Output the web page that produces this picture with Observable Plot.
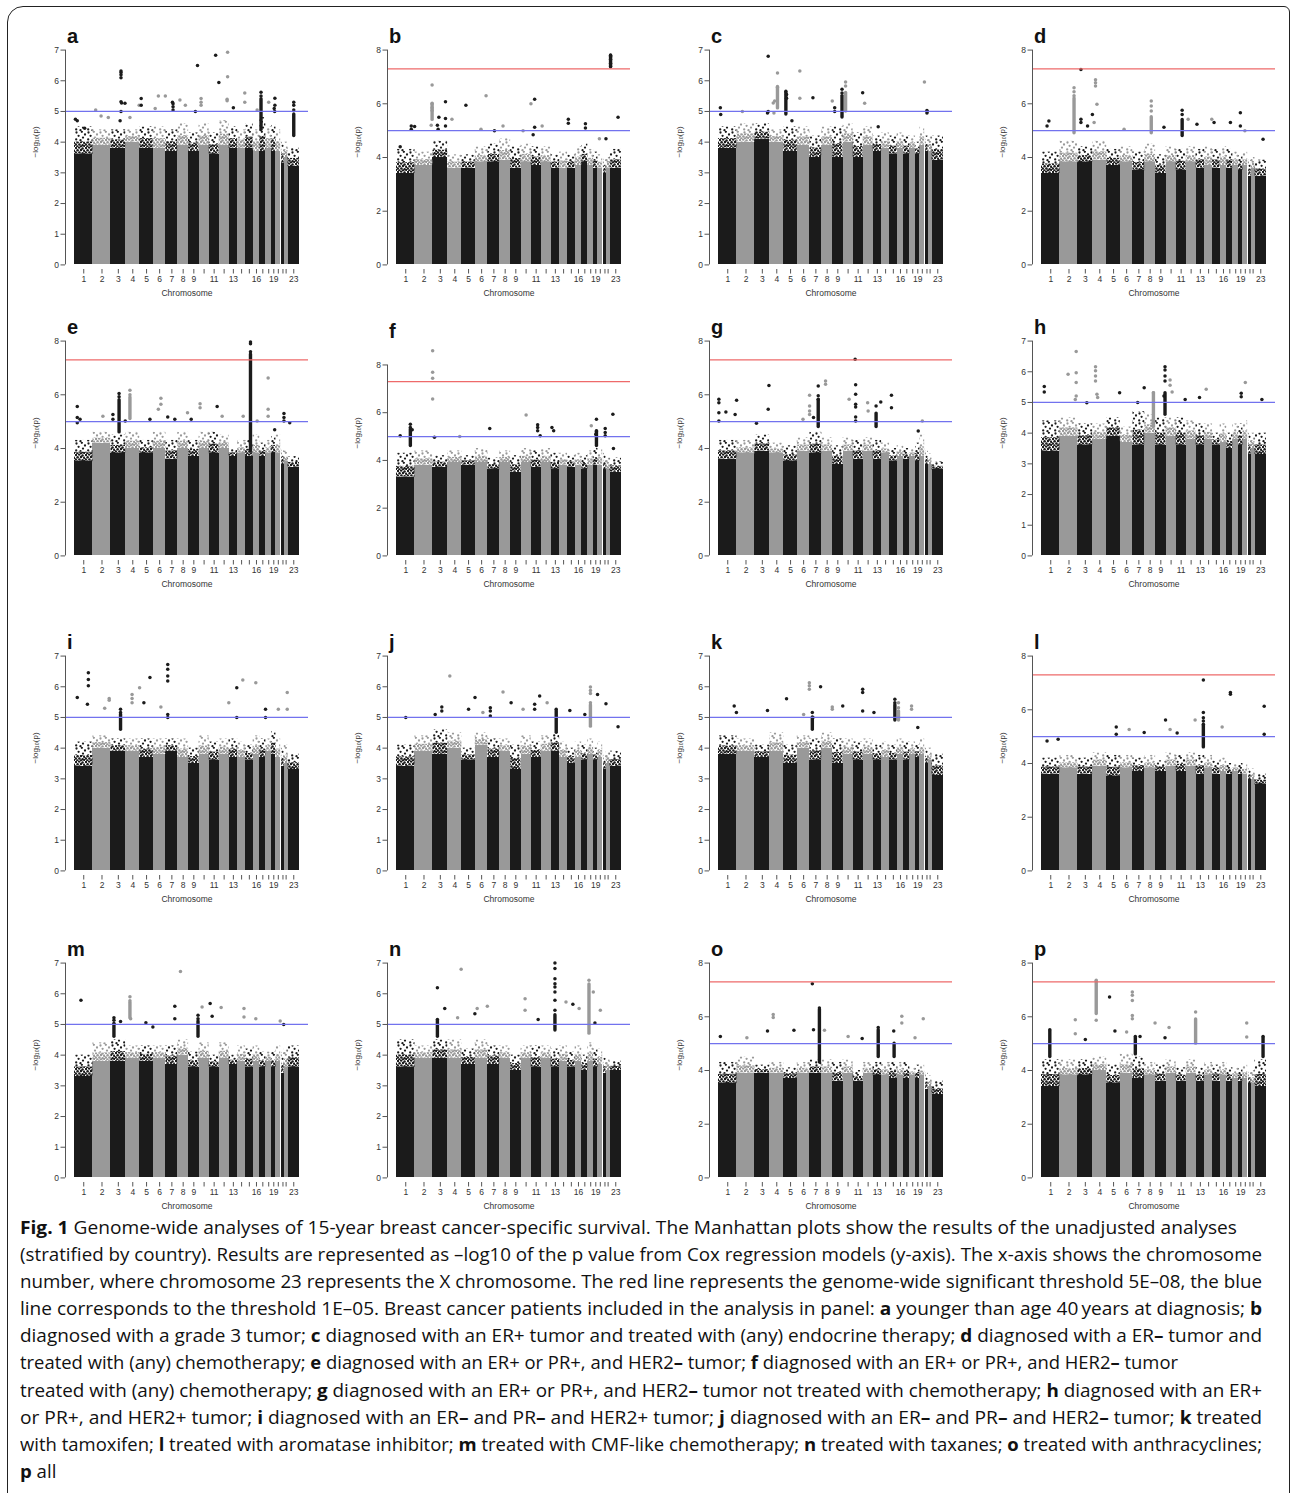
<!DOCTYPE html>
<html><head><meta charset="utf-8">
<script src="https://cdn.jsdelivr.net/npm/d3@7"></script>
<script src="https://cdn.jsdelivr.net/npm/@observablehq/plot@0.6"></script>
<style>
html,body{margin:0;padding:0;background:#fff;}
body{width:1290px;height:1493px;position:relative;overflow:hidden;font-family:"Liberation Sans",Arial,sans-serif;}
#frame{position:absolute;left:7px;top:6px;width:1283px;height:1530px;border:1.6px solid #222;border-radius:16px 6px 0 0;box-sizing:border-box;}
.panel{position:absolute;}
#caption{position:absolute;left:20px;top:1213px;font-family:"Open Sans",sans-serif;font-size:18.6px;line-height:27.1px;color:#111;}
#caption .ln{display:block;width:max-content;white-space:nowrap;transform-origin:0 50%;}
#caption b{font-weight:700;}
</style></head><body>
<svg width="0" height="0" style="position:absolute">
  <defs>
    <pattern id="dense-b" patternUnits="userSpaceOnUse" width="10" height="8"><g fill="#1b1b1b"><circle cx="1" cy="1" r="1.25"/><circle cx="4.2" cy="0.6" r="1.25"/><circle cx="7.5" cy="1.4" r="1.25"/><circle cx="2.6" cy="3.2" r="1.25"/><circle cx="6" cy="3" r="1.25"/><circle cx="9.2" cy="3.8" r="1.25"/><circle cx="0.8" cy="5.4" r="1.25"/><circle cx="4.4" cy="5.6" r="1.25"/><circle cx="7.6" cy="6.2" r="1.25"/><circle cx="2.4" cy="7.4" r="1.25"/><circle cx="5.8" cy="7.6" r="1.25"/><circle cx="9.4" cy="6.9" r="1.25"/></g></pattern>
    <pattern id="dense-g" patternUnits="userSpaceOnUse" width="10" height="8"><g fill="#999999"><circle cx="1" cy="1" r="1.25"/><circle cx="4.2" cy="0.6" r="1.25"/><circle cx="7.5" cy="1.4" r="1.25"/><circle cx="2.6" cy="3.2" r="1.25"/><circle cx="6" cy="3" r="1.25"/><circle cx="9.2" cy="3.8" r="1.25"/><circle cx="0.8" cy="5.4" r="1.25"/><circle cx="4.4" cy="5.6" r="1.25"/><circle cx="7.6" cy="6.2" r="1.25"/><circle cx="2.4" cy="7.4" r="1.25"/><circle cx="5.8" cy="7.6" r="1.25"/><circle cx="9.4" cy="6.9" r="1.25"/></g></pattern>
    <pattern id="sparse-b" patternUnits="userSpaceOnUse" width="12" height="10"><g fill="#1b1b1b"><circle cx="1.5" cy="1.5" r="1.15"/><circle cx="6.8" cy="0.8" r="1.15"/><circle cx="10" cy="3.5" r="1.15"/><circle cx="3.6" cy="4.8" r="1.15"/><circle cx="8" cy="6.6" r="1.15"/><circle cx="1.2" cy="8.4" r="1.15"/><circle cx="5.5" cy="9.2" r="1.15"/></g></pattern>
    <pattern id="sparse-g" patternUnits="userSpaceOnUse" width="12" height="10"><g fill="#999999"><circle cx="1.5" cy="1.5" r="1.15"/><circle cx="6.8" cy="0.8" r="1.15"/><circle cx="10" cy="3.5" r="1.15"/><circle cx="3.6" cy="4.8" r="1.15"/><circle cx="8" cy="6.6" r="1.15"/><circle cx="1.2" cy="8.4" r="1.15"/><circle cx="5.5" cy="9.2" r="1.15"/></g></pattern>
  </defs>
</svg>
<div id="frame"></div>
<div id="panels"></div>
<div id="caption">
<span class="ln" data-w="1217"><b>Fig. 1</b> Genome-wide analyses of 15-year breast cancer-specific survival. The Manhattan plots show the results of the unadjusted analyses</span>
<span class="ln" data-w="1242">(stratified by country). Results are represented as –log10 of the p value from Cox regression models (y-axis). The x-axis shows the chromosome</span>
<span class="ln" data-w="1242">number, where chromosome 23 represents the X chromosome. The red line represents the genome-wide significant threshold 5E–08, the blue</span>
<span class="ln" data-w="1242">line corresponds to the threshold 1E–05. Breast cancer patients included in the analysis in panel: <b>a</b> younger than age 40&#8201;years at diagnosis; <b>b</b></span>
<span class="ln" data-w="1242">diagnosed with a grade 3 tumor; <b>c</b> diagnosed with an ER+ tumor and treated with (any) endocrine therapy; <b>d</b> diagnosed with a ER<b>–</b> tumor and</span>
<span class="ln" data-w="1158">treated with (any) chemotherapy; <b>e</b> diagnosed with an ER+ or PR+, and HER2<b>–</b> tumor; <b>f</b> diagnosed with an ER+ or PR+, and HER2<b>–</b> tumor</span>
<span class="ln" data-w="1242">treated with (any) chemotherapy; <b>g</b> diagnosed with an ER+ or PR+, and HER2<b>–</b> tumor not treated with chemotherapy; <b>h</b> diagnosed with an ER+</span>
<span class="ln" data-w="1242">or PR+, and HER2+ tumor; <b>i</b> diagnosed with an ER<b>–</b> and PR<b>–</b> and HER2+ tumor; <b>j</b> diagnosed with an ER<b>–</b> and PR<b>–</b> and HER2<b>–</b> tumor; <b>k</b> treated</span>
<span class="ln" data-w="1242">with tamoxifen; <b>l</b> treated with aromatase inhibitor; <b>m</b> treated with CMF-like chemotherapy; <b>n</b> treated with taxanes; <b>o</b> treated with anthracyclines;</span>
<span class="ln"><b>p</b> all</span>
</div>
<script>
// ---------- genome (chromosome sizes in Mb, first position with data) ----------
const chromosomes = d3.range(1, 24);
const chrLength = [249,243,198,191,181,171,159,146,141,136,135,134,115,107,102,90,81,78,59,63,48,51,155];
const chrFirst  = [0,0,0,0,0,0,0,0,0,0,0,0,0,0,0,0,0,0,0,0,14,0,0];
const chrTickLabels = ["1","2","3","4","5","6","7","8","9","","11","","13","","","16","","","19","","","","23"];
const thresholdSuggestive = 5;     // 1E-05
const thresholdGenomeWide = 7.3;   // 5E-08

// ---------- per panel: top of the solid band, top of the dense fringe (per chromosome) ----------
const solid_a  = [3.6,3.9,3.8,4.0,3.8,3.8,3.7,3.9,3.7,3.9,3.6,3.9,3.8,3.8,3.8,3.7,3.7,3.8,3.7,3.7,3.3,3.5,3.2];
const fringe_a = [4.5,4.4,4.4,4.4,4.5,4.5,4.4,4.6,4.3,4.6,4.3,4.7,4.5,4.4,4.6,4.4,4.8,4.5,4.6,4.4,4.0,4.0,3.8];
const solid_b  = [3.4,3.7,4.0,3.6,3.6,3.8,3.8,3.9,3.6,3.8,3.7,3.8,3.6,3.6,3.6,3.7,3.8,3.7,3.6,3.6,3.4,3.6,3.6];
const fringe_b = [4.3,4.2,4.6,4.1,4.1,4.4,4.5,4.7,4.4,4.5,4.4,4.4,4.1,4.2,4.1,4.4,4.5,4.3,4.2,4.1,4.0,4.0,4.3];
const solid_c  = [3.8,4.0,4.1,4.0,3.7,3.9,3.5,3.9,3.5,4.0,3.5,3.9,3.7,3.8,3.6,3.8,3.6,3.8,3.6,3.9,3.7,3.7,3.4];
const fringe_c = [4.5,4.6,4.6,4.4,4.5,4.5,4.2,4.5,4.5,4.6,4.3,4.5,4.2,4.3,4.2,4.3,4.2,4.2,4.0,4.5,4.2,4.2,4.2];
const solid_d  = [3.4,3.8,3.8,3.9,3.7,3.8,3.5,3.8,3.4,3.8,3.5,3.8,3.6,3.7,3.6,3.7,3.6,3.7,3.5,3.7,3.3,3.6,3.3];
const fringe_d = [4.2,4.6,4.4,4.6,4.3,4.4,4.2,4.5,4.1,4.4,4.3,4.4,4.3,4.4,4.3,4.4,4.3,4.2,4.1,4.2,3.9,4.0,3.9];
const solid_e  = [3.5,4.2,3.8,4.0,3.8,4.0,3.6,4.0,3.7,4.0,3.8,4.0,3.7,3.8,3.7,3.8,3.7,3.8,3.8,3.8,3.4,3.5,3.3];
const fringe_e = [4.3,4.6,4.5,4.6,4.3,4.6,4.3,4.6,4.3,4.6,4.6,4.5,4.0,4.3,4.3,4.5,4.2,4.3,4.5,4.5,4.0,3.9,3.7];
const solid_f  = [3.3,3.8,3.7,3.9,3.8,3.9,3.6,3.9,3.5,3.9,3.7,3.9,3.6,3.8,3.7,3.8,3.6,3.8,3.8,3.8,3.6,3.6,3.5];
const fringe_f = [4.3,4.4,4.2,4.4,4.2,4.5,4.1,4.4,4.2,4.5,4.4,4.5,4.3,4.3,4.2,4.3,4.2,4.4,4.5,4.5,4.3,4.1,4.1];
const solid_g  = [3.6,3.8,3.9,3.8,3.5,3.9,3.8,3.9,3.4,3.9,3.6,3.9,3.6,3.8,3.5,3.7,3.6,3.7,3.5,3.7,3.4,3.4,3.2];
const fringe_g = [4.3,4.3,4.5,4.2,4.1,4.4,4.6,4.4,4.1,4.4,4.3,4.4,4.3,4.2,4.0,4.1,4.0,4.0,4.2,4.5,3.9,3.8,3.5];
const solid_h  = [3.4,3.9,3.6,3.8,3.9,3.7,3.6,4.0,3.6,3.9,3.6,3.8,3.6,3.8,3.6,3.7,3.5,3.8,3.6,3.8,3.3,3.5,3.3];
const fringe_h = [4.4,4.5,4.3,4.3,4.5,4.2,4.7,4.6,4.5,4.5,4.5,4.4,4.3,4.3,4.0,4.3,4.0,4.3,4.3,4.4,4.0,4.0,4.0];
const solid_i  = [3.4,4.0,3.9,3.9,3.7,3.8,3.9,3.7,3.5,3.8,3.6,3.8,3.7,3.7,3.6,3.8,3.7,3.9,3.8,3.7,3.4,3.5,3.3];
const fringe_i = [4.2,4.4,4.3,4.3,4.3,4.3,4.3,4.3,4.0,4.4,4.2,4.3,4.3,4.2,4.1,4.4,4.3,4.3,4.6,4.3,4.0,4.1,3.8];
const solid_j  = [3.4,3.9,3.8,4.0,3.6,4.1,3.7,3.9,3.3,3.8,3.7,3.9,3.9,3.7,3.5,3.7,3.6,3.8,3.6,3.7,3.3,3.5,3.4];
const fringe_j = [4.1,4.4,4.6,4.5,4.0,4.5,4.3,4.3,4.1,4.4,4.2,4.4,4.5,4.2,4.0,4.2,4.1,4.3,4.0,4.2,3.8,3.9,3.9];
const solid_k  = [3.8,3.9,3.7,3.9,3.5,4.0,3.6,4.0,3.5,3.8,3.6,3.8,3.6,3.7,3.6,3.8,3.6,3.8,3.7,3.8,3.5,3.6,3.1];
const fringe_k = [4.4,4.3,4.1,4.5,4.1,4.4,4.3,4.5,4.3,4.3,4.2,4.3,4.1,4.2,4.1,4.3,4.2,4.2,4.1,4.3,4.0,4.0,3.8];
const solid_l  = [3.6,3.8,3.6,3.9,3.5,3.8,3.7,3.8,3.7,3.9,3.7,3.9,3.6,3.8,3.6,3.7,3.6,3.7,3.6,3.6,3.4,3.4,3.2];
const fringe_l = [4.2,4.3,4.2,4.4,4.3,4.3,4.2,4.3,4.1,4.4,4.3,4.4,4.3,4.3,4.1,4.2,4.0,4.0,4.0,4.0,3.8,3.8,3.6];
const solid_m  = [3.3,3.8,3.8,3.9,3.8,3.9,3.7,4.0,3.6,3.9,3.6,3.9,3.7,3.8,3.6,3.8,3.6,3.8,3.6,3.8,3.4,3.6,3.6];
const fringe_m = [4.0,4.4,4.5,4.3,4.3,4.3,4.3,4.5,4.1,4.4,4.0,4.4,4.0,4.3,4.2,4.3,4.1,4.1,4.1,4.3,4.1,4.2,4.3];
const solid_n  = [3.6,3.9,3.9,3.9,3.7,3.9,3.7,3.9,3.5,3.9,3.6,3.9,3.6,3.8,3.6,3.8,3.5,3.8,3.6,3.7,3.4,3.5,3.5];
const fringe_n = [4.5,4.3,4.5,4.5,4.2,4.5,4.3,4.3,4.0,4.3,4.3,4.3,4.2,4.3,4.1,4.3,4.0,4.4,4.2,4.2,3.9,3.9,3.8];
const solid_o  = [3.5,3.9,3.9,3.9,3.7,3.9,3.9,3.9,3.6,3.9,3.6,3.9,3.8,3.8,3.7,3.8,3.7,3.8,3.7,3.8,3.3,3.4,3.1];
const fringe_o = [4.3,4.5,4.2,4.3,4.1,4.3,4.4,4.4,4.3,4.4,4.0,4.3,4.3,4.3,4.3,4.3,4.3,4.1,4.2,4.2,3.9,3.8,3.6];
const solid_p  = [3.4,3.8,3.8,4.0,3.5,3.9,3.7,3.8,3.6,3.9,3.6,3.9,3.6,3.8,3.6,3.8,3.6,3.7,3.6,3.7,3.5,3.5,3.4];
const fringe_p = [4.4,4.4,4.4,4.5,4.2,4.6,4.5,4.3,4.2,4.4,4.1,4.4,4.1,4.3,4.2,4.3,4.1,4.1,4.1,4.2,4.0,4.0,4.4];

// ---------- per panel: individual top hits [chromosome, position within chromosome 0..1, -log10 p] ----------
const hits_a = [[1,.05,4.75],[1,.15,4.7],[1,.55,4.45],[2,.15,5.05],[2,.45,4.85],[2,.85,4.8],[3,.68,6.32],[3,.68,6.27],[3,.68,6.2],[3,.68,6.1],[3,.68,5.32],[3,.72,5.28],[3,.68,5.0],[3,.62,4.7],[3,.95,5.27],[4,.3,4.8],[4,.95,5.2],[5,.1,5.42],[5,.1,5.2],[6,.15,5.1],[6,.4,5.5],[6,.95,5.5],[7,.55,5.3],[7,.6,5.25],[7,.6,5.15],[7,.6,5.05],[8,.2,5.37],[8,.7,5.2],[9,.85,6.5],[9,.65,5.0],[10,.2,5.42],[10,.2,5.3],[10,.2,5.2],[11,.65,6.83],[11,.97,5.94],[12,.85,6.93],[12,.85,6.13],[12,.8,5.4],[12,.8,5.35],[13,.5,5.12],[14,.9,5.6],[14,.9,5.3],[16,.6,5.05],[17,.2,5.63],[17,.2,5.5],[18,.5,5.3],[19,.75,5.43],[19,.75,5.2],[19,.6,5.1],[19,.7,5.0],[23,.5,5.3],[23,.5,5.2],[23,.5,5.05]];
const hits_b = [[1,.8,5.17],[1,.8,5.05],[1,.98,5.15],[1,.2,4.4],[2,.95,6.7],[2,.95,6.0],[2,.95,5.85],[2,.95,5.75],[2,.9,5.2],[3,.85,6.08],[3,.4,5.5],[3,.85,5.45],[3,.85,5.17],[3,.35,5.05],[3,.3,5.2],[4,.3,5.42],[5,.3,5.95],[6,.85,6.3],[6,.45,5.05],[7,.55,5.0],[8,.3,5.17],[10,.2,5.0],[10,.98,6.0],[11,.35,6.17],[11,.35,5.13],[11,.2,4.85],[12,.1,5.17],[15,.1,5.42],[15,.1,5.28],[17,.6,5.26],[17,.6,5.1],[20,.3,4.7],[21,.9,4.7],[23,.05,7.8],[23,.05,7.75],[23,.05,7.65],[23,.05,7.5],[23,.05,7.38],[23,.7,5.5]];
const hits_c = [[1,.1,5.12],[1,.12,4.9],[2,.3,5.0],[3,.9,6.8],[3,.9,5.0],[3,.85,4.95],[4,.55,6.25],[4,.55,5.78],[4,.35,5.34],[4,.25,5.28],[4,.3,4.95],[5,.15,5.66],[5,.2,5.55],[5,.2,5.43],[5,.6,4.7],[6,.2,6.32],[6,.2,5.43],[7,.25,5.45],[8,.97,5.34],[9,.2,5.12],[9,.2,5.0],[9,.9,5.72],[9,.9,5.6],[10,.25,5.96],[10,.25,5.83],[11,.95,5.61],[12,.15,5.27],[13,.6,4.5],[20,.95,5.96],[21,.5,5.03],[21,.6,5.0],[21,.5,4.95]];
const hits_d = [[1,.4,5.36],[1,.3,5.17],[2,.78,6.6],[2,.78,6.45],[2,.78,6.3],[3,.2,7.28],[3,.2,5.42],[3,.2,5.3],[3,.65,5.17],[3,.98,5.6],[4,.2,6.9],[4,.2,6.78],[4,.2,6.66],[4,.3,5.98],[4,.1,5.3],[6,.3,5.05],[8,.6,6.1],[8,.6,5.92],[8,.6,5.73],[9,.8,5.13],[11,.6,5.76],[11,.6,5.6],[12,.2,5.42],[13,.1,5.24],[14,.9,5.42],[15,.2,5.3],[17,.6,5.3],[19,.4,5.67],[19,.4,5.17],[20,.4,5.0],[23,.7,4.68]];
const hits_e = [[1,.15,5.56],[1,.15,5.15],[1,.3,5.09],[1,.15,4.96],[2,.55,5.2],[3,.55,6.05],[3,.55,5.93],[3,.13,5.27],[3,.13,5.09],[3,.97,5.02],[4,.3,6.17],[4,.3,6.0],[5,.75,5.09],[6,.6,5.87],[6,.6,5.65],[6,.4,5.46],[7,.15,5.17],[7,.75,5.09],[8,.9,5.33],[9,.25,5.09],[10,.1,5.67],[10,.1,5.52],[11,.8,5.56],[12,.3,5.2],[14,.7,5.2],[15,.65,7.97],[15,.65,7.9],[15,.65,7.6],[16,.6,5.02],[18,.4,6.63],[18,.4,5.46],[18,.4,5.2],[19,.7,4.7],[21,.9,5.3],[21,.9,5.15],[21,.9,5.02],[23,.15,4.96]];
const hits_f = [[1,.75,5.52],[1,.75,5.38],[1,.85,5.29],[1,.2,5.03],[2,.98,8.6],[2,.98,7.69],[2,.98,7.44],[2,.98,6.57],[3,.1,4.97],[4,.85,5.0],[7,.15,5.34],[10,.5,5.9],[11,.65,5.5],[11,.65,5.38],[11,.65,5.24],[11,.9,5.03],[13,.1,5.38],[13,.3,5.24],[18,.6,5.45],[19,.65,5.73],[19,.65,5.24],[19,.5,5.1],[21,.6,5.34],[21,.6,5.17],[21,.6,5.03],[23,.25,5.94],[23,.3,4.5]];
const hits_g = [[1,.02,5.83],[1,.02,5.7],[1,.02,5.33],[1,.02,5.02],[1,.4,5.36],[1,.98,5.8],[1,.9,5.27],[3,.1,4.94],[3,.95,6.35],[3,.9,5.46],[6,.45,5.09],[6,.97,5.98],[6,.97,5.58],[6,.97,5.4],[6,.97,5.27],[7,.7,6.33],[7,.7,5.96],[7,.7,5.83],[7,.3,5.15],[8,.35,6.51],[8,.35,6.39],[10,.6,5.83],[11,.2,7.32],[11,.25,6.37],[11,.25,6.02],[11,.25,5.65],[11,.25,5.55],[11,.25,5.17],[11,.25,5.02],[12,.45,5.7],[12,.5,5.4],[13,.35,5.58],[13,.9,5.73],[15,.25,5.98],[15,.25,5.52],[19,.6,4.65],[20,.5,5.02]];
const hits_h = [[1,.15,5.52],[1,.15,5.34],[2,.45,5.92],[2,.9,6.66],[2,.9,5.97],[2,.9,5.65],[2,.9,5.21],[2,.85,5.1],[3,.6,4.99],[4,.2,6.16],[4,.2,6.03],[4,.2,5.86],[4,.2,5.7],[4,.3,5.27],[4,.35,5.16],[5,.95,5.32],[7,.95,5.48],[7,.4,5.0],[8,.8,5.32],[9,.9,6.16],[9,.9,6.06],[9,.9,5.86],[9,.9,5.7],[9,.8,5.21],[10,.4,5.73],[10,.4,5.56],[10,.6,5.34],[11,.9,5.1],[13,.4,5.16],[14,.2,5.43],[19,.6,5.3],[19,.6,5.19],[20,.5,5.65],[23,.6,5.1]];
const hits_i = [[1,.75,6.46],[1,.75,6.24],[1,.75,6.03],[1,.7,5.43],[1,.15,5.65],[2,.65,5.3],[2,.9,5.62],[2,.9,5.56],[3,.65,5.27],[3,.65,5.16],[4,.45,5.75],[4,.45,5.62],[4,.45,5.48],[4,.98,5.97],[5,.3,5.48],[5,.75,6.3],[6,.6,5.34],[7,.15,6.73],[7,.15,6.57],[7,.15,6.35],[7,.15,6.19],[7,.15,5.1],[7,.15,5.0],[12,.97,5.48],[13,.9,5.97],[13,.9,5.0],[14,.65,6.22],[16,.4,6.13],[17,.95,5.27],[17,.95,5.0],[20,.5,5.27],[22,.8,5.81],[22,.8,5.27]];
const hits_j = [[1,.5,5.0],[3,.15,5.1],[3,.6,5.34],[3,.6,5.21],[4,.15,6.35],[5,.5,5.27],[5,.98,5.65],[6,.6,5.16],[7,.2,5.32],[7,.2,5.21],[7,.2,5.05],[8,.3,5.83],[9,.05,5.48],[10,.2,5.27],[11,.35,5.43],[11,.35,5.27],[11,.85,5.7],[12,.6,5.48],[13,.6,5.27],[15,.3,5.23],[17,.5,5.1],[18,.45,5.99],[18,.45,5.88],[18,.45,5.78],[18,.45,5.48],[19,.9,5.75],[21,.9,5.45],[23,.7,4.7]];
const hits_k = [[1,.85,5.37],[1,.97,5.16],[3,.85,5.23],[5,.2,5.61],[6,.5,5.1],[6,.95,6.13],[6,.95,6.03],[6,.95,5.92],[7,.9,6.0],[7,.2,5.16],[7,.25,5.0],[8,.97,5.34],[8,.97,5.27],[9,.97,5.37],[11,.95,5.92],[11,.95,5.81],[11,.95,5.21],[13,.1,5.16],[15,.7,5.59],[15,.7,5.48],[16,.2,5.48],[16,.2,5.32],[18,.3,5.37],[18,.3,5.27],[19,.5,4.67]];
const hits_l = [[1,.3,4.84],[1,.9,4.9],[5,.7,5.36],[5,.7,5.09],[6,.7,5.27],[7,.95,5.15],[9,.95,5.62],[10,.4,5.27],[11,.1,5.14],[12,.9,5.62],[13,.85,7.11],[13,.85,5.9],[13,.85,5.7],[13,.85,5.58],[13,.85,5.46],[16,.3,5.36],[17,.6,6.64],[17,.6,6.58],[23,.8,6.13],[23,.8,5.09]];
const hits_m = [[1,.35,5.79],[3,.2,5.22],[3,.2,5.14],[3,.2,5.03],[3,.65,5.1],[4,.3,5.9],[4,.3,5.77],[4,.35,5.19],[5,.45,5.06],[5,.97,4.92],[7,.75,5.59],[7,.75,5.19],[8,.25,6.73],[9,.9,5.3],[9,.9,5.19],[10,.3,5.57],[11,.1,5.68],[11,.3,5.27],[12,.2,5.55],[14,.8,5.52],[14,.8,5.24],[16,.4,5.19],[20,.9,5.11],[21,.8,5.0]];
const hits_n = [[3,.3,6.2],[3,.8,5.52],[4,.95,6.8],[4,.7,5.22],[6,.15,5.52],[6,.95,5.59],[5,.97,5.35],[10,.4,5.84],[10,.4,5.46],[11,.7,5.16],[13,.45,7.0],[13,.45,6.82],[13,.45,6.49],[13,.45,6.33],[13,.45,6.22],[13,.45,6.06],[13,.45,5.79],[13,.45,5.46],[14,.8,5.73],[15,.7,5.66],[16,.6,5.52],[18,.2,6.44],[18,.95,6.06],[19,.3,5.05],[20,.5,5.46]];
const hits_o = [[1,.1,5.27],[2,.55,5.22],[3,.85,5.47],[4,.25,6.09],[4,.25,5.97],[5,.75,5.5],[7,.2,7.23],[7,.3,5.52],[7,.8,6.33],[8,.25,5.5],[10,.5,5.27],[11,.9,5.19],[13,.6,5.6],[15,.55,5.47],[16,.7,6.02],[16,.7,5.77],[18,.9,5.22],[20,.7,5.93]];
const hits_p = [[1,.45,5.52],[2,.85,5.89],[2,.85,5.37],[3,.5,5.15],[4,.25,7.36],[4,.25,5.87],[5,.2,6.74],[5,.6,5.47],[6,.5,5.43],[6,.95,6.92],[6,.95,6.8],[6,.95,6.61],[6,.95,6.05],[6,.95,5.93],[7,.2,5.27],[7,.6,5.27],[8,.95,5.77],[9,.9,5.22],[10,.3,5.6],[12,.95,6.18],[20,.8,5.77],[20,.8,5.25],[23,.7,5.27]];

// ---------- per panel: dense stacks of hits [chromosome, position 0..1, from, to] ----------
const stacks_a = [[17,.2,4.4,5.4],[23,.5,4.2,4.9]];
const stacks_b = [[2,.95,5.4,6.0],[23,.05,7.38,7.8]];
const stacks_c = [[4,.55,5.1,5.8],[5,.15,4.9,5.6],[9,.9,4.8,5.5],[10,.25,5.0,5.6]];
const stacks_d = [[2,.78,4.9,6.2],[8,.6,4.9,5.5],[11,.6,4.8,5.4]];
const stacks_e = [[15,.65,3.9,7.5],[3,.55,4.6,5.8],[4,.3,5.1,5.9]];
const stacks_f = [[1,.75,4.6,5.3],[19,.65,4.6,5.2]];
const stacks_g = [[7,.7,4.8,5.8],[13,.35,4.8,5.3]];
const stacks_h = [[8,.8,4.2,5.3],[9,.9,4.6,5.3]];
const stacks_i = [[3,.65,4.6,5.1]];
const stacks_j = [[13,.6,4.5,5.2],[18,.45,4.7,5.4]];
const stacks_k = [[15,.7,4.9,5.4],[16,.2,4.9,5.2],[7,.2,4.6,5.0]];
const stacks_l = [[13,.85,4.6,5.4]];
const stacks_m = [[4,.3,5.2,5.7],[9,.9,4.6,5.1],[3,.2,4.6,5.0]];
const stacks_n = [[13,.45,4.8,5.3],[18,.2,4.7,6.3],[3,.3,4.6,5.15]];
const stacks_o = [[7,.8,4.3,6.25],[13,.6,4.5,5.5],[15,.6,4.5,5.0]];
const stacks_p = [[4,.25,6.1,7.3],[1,.45,4.5,5.45],[12,.95,5.0,5.9],[23,.7,4.5,5.2],[7,.2,4.6,5.2]];

const panelLetters = ["a","b","c","d","e","f","g","h","i","j","k","l","m","n","o","p"];
const panels = [
  [solid_a,fringe_a,hits_a,stacks_a],[solid_b,fringe_b,hits_b,stacks_b],[solid_c,fringe_c,hits_c,stacks_c],[solid_d,fringe_d,hits_d,stacks_d],
  [solid_e,fringe_e,hits_e,stacks_e],[solid_f,fringe_f,hits_f,stacks_f],[solid_g,fringe_g,hits_g,stacks_g],[solid_h,fringe_h,hits_h,stacks_h],
  [solid_i,fringe_i,hits_i,stacks_i],[solid_j,fringe_j,hits_j,stacks_j],[solid_k,fringe_k,hits_k,stacks_k],[solid_l,fringe_l,hits_l,stacks_l],
  [solid_m,fringe_m,hits_m,stacks_m],[solid_n,fringe_n,hits_n,stacks_n],[solid_o,fringe_o,hits_o,stacks_o],[solid_p,fringe_p,hits_p,stacks_p]
].map(([solid,fringe,hits,stacks],i)=>({letter:panelLetters[i],solid,fringe,hits,stacks}));

// ---------- layout ----------
const colAxisX = [64.6, 386.8, 708.5, 1031.5];
const rowZeroY = [264, 555, 870, 1177.7];
const BLACK = "#1b1b1b", GREY = "#999999", AXIS = "#555";
const ML = 50, MR = 8, MT = 30, MB = 40, PW = 243, PH = 232;

const offsets = []; { let acc = 0; for (const L of chrLength) { offsets.push(acc); acc += L; } }
const total = d3.sum(chrLength);
const centers = chromosomes.map((c,i)=> offsets[i] + (chrFirst[i] + chrLength[i]) / 2);
const labelAt = new Map(centers.map((c,i)=>[c, chrTickLabels[i]]));
const odd = c => c % 2 === 1;
const colorOf = c => (odd(c) ? BLACK : GREY);
const pos = (c, fr) => offsets[c-1] + chrFirst[c-1] + fr * (chrLength[c-1] - chrFirst[c-1]);

const host = document.getElementById("panels");
panels.forEach((p, k) => {
  const col = k % 4, row = Math.floor(k / 4);
  const M = Math.ceil(d3.max([...p.hits.map(d=>d[2]), ...p.stacks.map(d=>d[3])]));
  const yTicks = d3.range(0, M + 1e-9, M <= 7 ? 1 : 2);
  const lastTick = yTicks[yTicks.length - 1];
  const body = chromosomes.map((c,i)=>({c, x1: offsets[i] + chrFirst[i], x2: offsets[i] + chrLength[i],
    s: p.solid[i], f: p.fringe[i], m: p.solid[i] + 0.45 * (p.fringe[i] - p.solid[i])}));
  const dots = p.hits.map(([c,fr,v])=>({c, x: pos(c,fr), y: v}));
  const cols = p.stacks.map(([c,fr,lo,hi])=>({c, x: pos(c,fr), y1: lo, y2: hi}));
  const xDomain = [-0.04 * total, 1.04 * total];
  const marks = [
    Plot.rect(body, {x1:"x1", x2:"x2", y1: 0, y2: "s", fill: d=>colorOf(d.c), shapeRendering: "crispEdges"}),
    Plot.rect(body, {x1:"x1", x2:"x2", y1: "s", y2: "m", fill: d=>`url(#dense-${odd(d.c)?"b":"g"})`}),
    Plot.rect(body, {x1:"x1", x2:"x2", y1: "m", y2: "f", fill: d=>`url(#sparse-${odd(d.c)?"b":"g"})`}),
    Plot.ruleX(cols, {x:"x", y1:"y1", y2:"y2", stroke: d=>colorOf(d.c), strokeWidth: 3.4, strokeLinecap: "round"}),
    Plot.dot(dots, {x:"x", y:"y", r: 1.75, fill: d=>colorOf(d.c), stroke: "none"}),
    Plot.ruleY([thresholdSuggestive], {stroke: "#7272ee", strokeWidth: 1.3}),
  ];
  if (thresholdGenomeWide <= 1.04 * M) marks.push(Plot.ruleY([thresholdGenomeWide], {stroke: "#ee6a6a", strokeWidth: 1.3}));
  marks.push(
    Plot.ruleX([xDomain[0]], {y1: 0, y2: lastTick, stroke: AXIS, strokeWidth: 1}),
    Plot.axisY(yTicks, {tickSize: 4.5, tickPadding: 2, fontSize: 8.5, label: null, stroke: AXIS}),
    Plot.axisX(centers, {tickSize: 4.5, tickPadding: 1.5, dy: -4, fontSize: 8.5, label: null, stroke: AXIS, tickFormat: d => labelAt.get(d) ?? ""}),
    Plot.text(["−log₁₀(p)"], {frameAnchor: "left", rotate: -90, dx: -29.6, fontSize: 8, fill: "#333"}),
    Plot.text(["Chromosome"], {frameAnchor: "bottom", dy: 22.4, fontSize: 8.5, fill: "#333"}),
    Plot.text([p.letter], {frameAnchor: "top-left", textAnchor: "start", lineAnchor: "bottom", dx: 1.5, dy: 1 + (p.letter === "f" ? 4 : 0), fontSize: 20, fontWeight: "bold", fill: "#111"})
  );
  const svg = Plot.plot({
    width: ML + PW + MR, height: MT + PH + MB,
    marginLeft: ML, marginRight: MR, marginTop: MT, marginBottom: MB,
    x: {domain: xDomain},
    y: {domain: [-0.04 * M, 1.04 * M]},
    color: {type: "identity"},
    style: {fontFamily: "Liberation Sans, Arial, sans-serif", fontSize: "8.5px", color: "#333", background: "transparent", overflow: "visible"},
    marks
  });
  svg.classList.add("panel");
  svg.style.left = (colAxisX[col] - ML) + "px";
  svg.style.top = (rowZeroY[row] + 8.6 + MB - (MT + PH + MB)) + "px";
  host.appendChild(svg);
});

// caption lines: fit each line to the measured width of the reference line
document.querySelectorAll("#caption .ln").forEach(el => {
  const target = +el.dataset.w;
  if (!target) return;
  const natural = el.getBoundingClientRect().width;
  if (natural > 0) el.style.transform = `scaleX(${target / natural})`;
});
</script>
</body></html>
